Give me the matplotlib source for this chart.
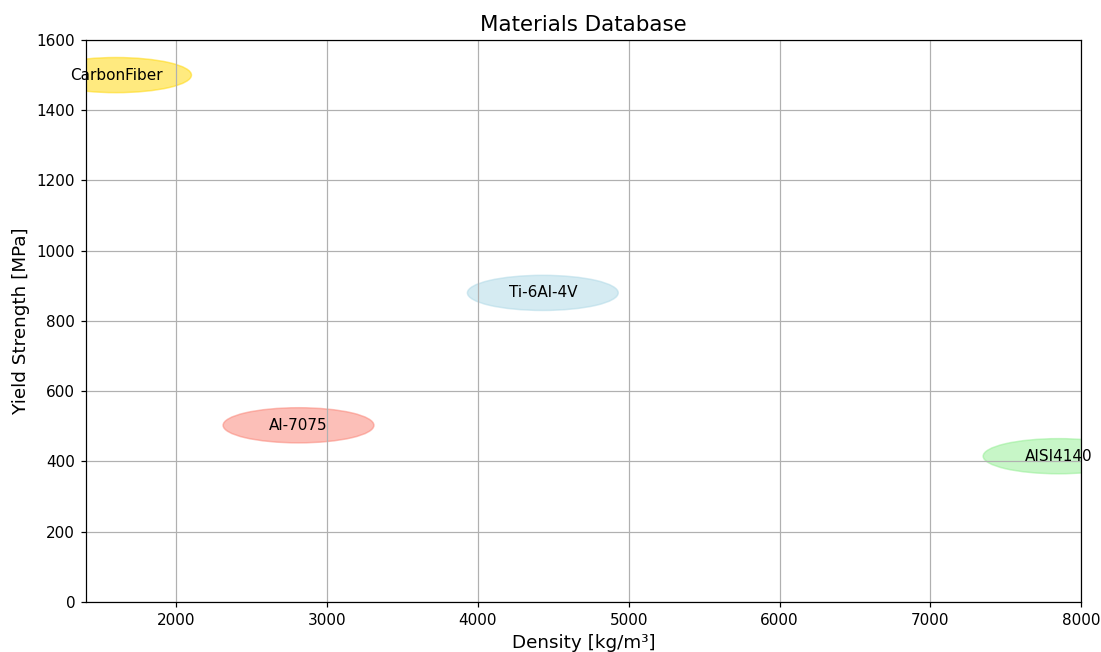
import matplotlib
matplotlib.use("Agg")
import matplotlib.pyplot as plt
from matplotlib.patches import Ellipse

materials = ["CarbonFiber", "Al-7075", "Ti-6Al-4V", "AISI4140"]
density = [1600, 2810, 4430, 7850]        # kg/m3
yield_strength = [1500, 503, 880, 415]    # MPa
colors = ["gold", "salmon", "lightblue", "lightgreen"]

fig, ax = plt.subplots(figsize=(1101 / 110, 652 / 110), dpi=110)
fig.subplots_adjust(left=0.078, right=0.982, top=0.9387, bottom=0.0767)

for name, d, s, c in zip(materials, density, yield_strength, colors):
    e = Ellipse((d, s), width=1000, height=100, color=c, alpha=0.5)
    ax.add_patch(e)
    ax.text(d, s, name, ha="center", va="center", fontsize=10)

ax.set_xlim(1400, 8000)
ax.set_ylim(0, 1600)
ax.set_xlabel("Density [kg/m³]", fontsize=12)
ax.set_ylabel("Yield Strength [MPa]", fontsize=12)
ax.set_title("Materials Database", fontsize=14)
ax.grid(True)

plt.savefig("out.png", dpi=110)
